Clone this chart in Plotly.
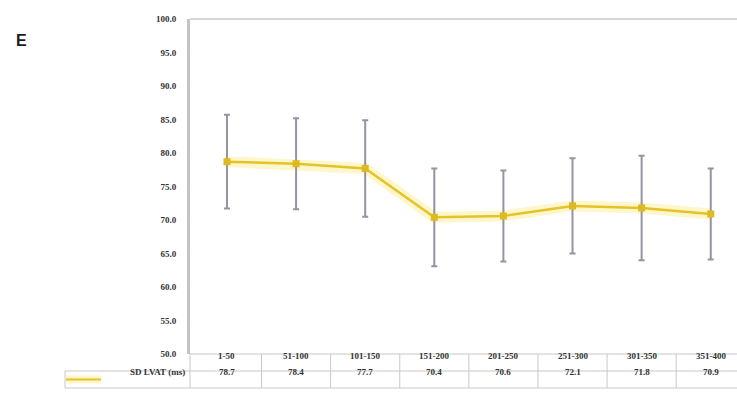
import plotly.graph_objects as go

# Data
categories = ["1-50", "51-100", "101-150", "151-200", "201-250", "251-300", "301-350", "351-400"]
sd_lvat = [78.7, 78.4, 77.7, 70.4, 70.6, 72.1, 71.8, 70.9]
sd_err = [7.0, 6.8, 7.2, 7.3, 6.8, 7.1, 7.8, 6.8]
y_ticks = [50, 55, 60, 65, 70, 75, 80, 85, 90, 95, 100]
series_name = "SD LVAT (ms)"

W, H = 737, 394
ML, MR, MT, MB = 190, 0, 19, 40
PW, PH = W - ML - MR, H - MT - MB

def px_x(px):
    return (px - ML) / PW

def px_y(py):
    return 1 - (py - MT) / PH

LINE = "#E6C22A"
GLOW = "rgba(250,226,70,0.28)"
GRID = "#c8c8c8"
TXT = "#333333"
SERIF = "Liberation Serif"

fig = go.Figure()

# soft glow under the series line
fig.add_trace(go.Scatter(
    x=categories, y=sd_lvat, mode="lines",
    line=dict(color=GLOW, width=11), hoverinfo="skip", showlegend=False,
))
fig.add_trace(go.Scatter(
    x=categories, y=sd_lvat, mode="lines+markers", name=series_name,
    line=dict(color=LINE, width=2.5),
    marker=dict(symbol="square", size=7, color="#DDB922"),
    error_y=dict(type="data", array=sd_err, visible=True,
                 color="#9494a2", thickness=2, width=3),
    showlegend=False,
))

shapes = []
row1_top, row2_top, row2_bot = px_y(354), px_y(371), px_y(388)

# top border of the plot area
shapes.append(dict(type="line", xref="paper", yref="paper", x0=0, x1=1,
                   y0=1, y1=1, line=dict(color=GRID, width=1.5)))
# data table horizontal rules
for y, x0 in [(row1_top, 0), (row2_top, px_x(65)), (row2_bot, px_x(65))]:
    shapes.append(dict(type="line", xref="paper", yref="paper", x0=x0, x1=1,
                       y0=y, y1=y, line=dict(color=GRID, width=1)))
# left edges of the table
shapes.append(dict(type="line", xref="paper", yref="paper", x0=0, x1=0,
                   y0=row2_bot, y1=row1_top, line=dict(color=GRID, width=1)))
shapes.append(dict(type="line", xref="paper", yref="paper", x0=px_x(65), x1=px_x(65),
                   y0=row2_bot, y1=row2_top, line=dict(color=GRID, width=1)))
# column separators
for i in range(1, len(categories)):
    shapes.append(dict(type="line", xref="x", yref="paper", x0=i - 0.5, x1=i - 0.5,
                       y0=row2_bot, y1=row1_top, line=dict(color=GRID, width=1)))
# legend key in the table
key_y = (row2_top + row2_bot) / 2
shapes.append(dict(type="line", xref="paper", yref="paper", x0=px_x(66), x1=px_x(101),
                   y0=key_y, y1=key_y, line=dict(color=GLOW, width=8)))
shapes.append(dict(type="line", xref="paper", yref="paper", x0=px_x(66), x1=px_x(101),
                   y0=key_y, y1=key_y, line=dict(color=LINE, width=2)))

annotations = []
row1_y = (row1_top + row2_top) / 2
tfont = dict(family=SERIF, size=9, color=TXT)
for i, cat in enumerate(categories):
    annotations.append(dict(x=i, y=row1_y, xref="x", yref="paper", text=f"<b>{cat}</b>",
                            showarrow=False, font=tfont))
    annotations.append(dict(x=i, y=key_y, xref="x", yref="paper",
                            text=f"<b>{sd_lvat[i]:.1f}</b>", showarrow=False, font=tfont))
annotations.append(dict(x=px_x(187), y=key_y, xref="paper", yref="paper",
                        text=f"<b>{series_name}</b>", xanchor="right", showarrow=False,
                        font=tfont))
annotations.append(dict(x=px_x(14), y=px_y(30), xref="paper", yref="paper", text="<b>E</b>",
                        xanchor="left", showarrow=False,
                        font=dict(family="Liberation Sans", size=16, color="#1a1a1a")))

fig.update_layout(
    width=W, height=H,
    margin=dict(l=ML, r=MR, t=MT, b=MB),
    paper_bgcolor="white", plot_bgcolor="white",
    shapes=shapes, annotations=annotations,
    xaxis=dict(type="category", categoryorder="array", categoryarray=categories,
               range=[-0.535, 7.38], showticklabels=False, showgrid=False,
               zeroline=False, showline=False, ticks=""),
    yaxis=dict(range=[50, 100], tickvals=y_ticks,
               ticktext=[f"<b>{v:.1f}</b>" for v in y_ticks],
               showgrid=False, zeroline=False, showline=True,
               linecolor="#c4c4c4", linewidth=3, ticks="",
               ticklabelstandoff=9,
               tickfont=dict(family=SERIF, size=9, color=TXT)),
)

fig.write_html("out.html")
